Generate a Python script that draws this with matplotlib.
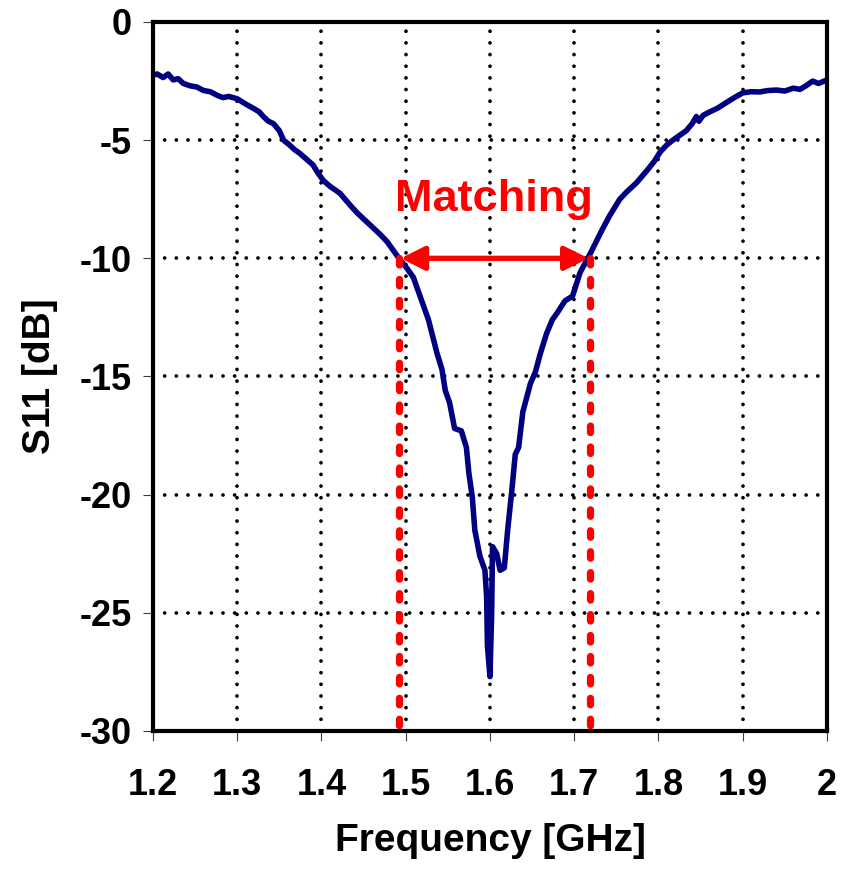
import matplotlib
matplotlib.use("Agg")
import matplotlib.pyplot as plt

matplotlib.rc("font", **{"family": "sans-serif", "sans-serif": ["Liberation Sans", "DejaVu Sans"], "weight": "bold"})
matplotlib.rcParams["axes.unicode_minus"] = False

freq = [1.200, 1.205, 1.212, 1.218, 1.224, 1.230, 1.236, 1.244, 1.252, 1.260,
        1.268, 1.276, 1.283, 1.290, 1.300, 1.309, 1.319, 1.326, 1.331, 1.337,
        1.343, 1.350, 1.355, 1.362, 1.368, 1.374, 1.382, 1.390, 1.396, 1.402,
        1.410, 1.416, 1.422, 1.434, 1.443, 1.452, 1.461, 1.470, 1.478, 1.486,
        1.493, 1.501, 1.509, 1.517, 1.522, 1.527, 1.532, 1.537, 1.543, 1.547,
        1.552, 1.558, 1.566, 1.572, 1.575, 1.579, 1.582, 1.588, 1.594, 1.596,
        1.597, 1.600, 1.602, 1.603, 1.608, 1.612, 1.617, 1.621, 1.626, 1.630,
        1.634, 1.639, 1.648, 1.654, 1.660, 1.667, 1.674, 1.680, 1.689, 1.698,
        1.707, 1.719, 1.733, 1.742, 1.754, 1.762, 1.774, 1.786, 1.795, 1.802,
        1.810, 1.817, 1.825, 1.833, 1.840, 1.845, 1.848, 1.853, 1.861, 1.870,
        1.881, 1.890, 1.900, 1.910, 1.920, 1.930, 1.940, 1.950, 1.960, 1.968,
        1.975, 1.983, 1.990, 2.000]
s11 = [-2.25, -2.2, -2.35, -2.2, -2.45, -2.4, -2.6, -2.7, -2.75, -2.9,
       -2.95, -3.1, -3.2, -3.15, -3.25, -3.45, -3.65, -3.8, -4.0, -4.2,
       -4.3, -4.6, -5.0, -5.2, -5.4, -5.55, -5.8, -6.05, -6.4, -6.7,
       -6.95, -7.1, -7.25, -7.75, -8.1, -8.4, -8.7, -9.0, -9.3, -9.7,
       -10.05, -10.4, -10.8, -11.6, -12.1, -12.6, -13.3, -14.0, -14.7, -15.6,
       -16.1, -17.2, -17.3, -18.0, -19.1, -20.1, -21.5, -22.6, -23.2, -24.3,
       -26.4, -27.7, -25.0, -22.2, -22.5, -23.2, -23.1, -21.5, -19.8, -18.3,
       -18.0, -16.5, -15.3, -14.8, -14.0, -13.2, -12.6, -12.3, -11.8, -11.6,
       -10.6, -9.8, -8.8, -8.2, -7.5, -7.2, -6.8, -6.3, -5.9, -5.5,
       -5.2, -5.0, -4.8, -4.6, -4.3, -4.0, -4.2, -3.95, -3.8, -3.65,
       -3.4, -3.2, -3.0, -2.95, -2.96, -2.9, -2.88, -2.92, -2.8, -2.85,
       -2.7, -2.5, -2.6, -2.45]

# -10 dB matching band
band_lo = 1.492
band_hi = 1.719
band_level = -10
label_text = "Matching"

xticks = [1.2, 1.3, 1.4, 1.5, 1.6, 1.7, 1.8, 1.9, 2.0]
xtick_labels = ["1.2", "1.3", "1.4", "1.5", "1.6", "1.7", "1.8", "1.9", "2"]
yticks = [0, -5, -10, -15, -20, -25, -30]

#
#   plot
#
fig = plt.figure(figsize=(8.48, 8.73), dpi=100)
ax = fig.add_axes([0.1804, 0.1627, 0.7948, 0.8121])

ax.plot(freq, s11, color="#000080", lw=4.0, zorder=3,
        solid_joinstyle="round", solid_capstyle="round")

# dashed band edges
for f in [band_lo, band_hi]:
    ax.plot([f, f], [band_level, -30], color="#ff0000", lw=5.2,
            linestyle=(0, (0.9, 2.0)), dash_capstyle="round", zorder=4, clip_on=False)

# double arrow
ax.annotate("", xy=(band_lo + 0.002, band_level), xytext=(band_hi - 0.002, band_level),
            arrowprops=dict(arrowstyle="<|-|>", color="#ff0000", lw=3.8,
                            mutation_scale=36, shrinkA=0, shrinkB=0), zorder=5)
ax.text(1.605, -7.5, label_text, color="#ff0000", fontsize=32.5, fontweight="bold",
        ha="center", va="center", zorder=5)

ax.set_xlim(1.2, 2.0)
ax.set_ylim(-30, 0)
ax.set_xticks(xticks)
ax.set_xticklabels(xtick_labels)
ax.set_yticks(yticks)
ax.tick_params(axis="both", direction="out", length=7, width=0.8, color="#404040", labelsize=26)
ax.tick_params(axis="x", pad=20)
ax.tick_params(axis="y", pad=8)

ax.grid(True, color="black", lw=2.7, linestyle=(0, (0.01, 3.1)), dash_capstyle="round", zorder=1)
for s in ax.spines.values():
    s.set_linewidth(3)
    s.set_zorder(6)

ax.set_xlabel("Frequency [GHz]", fontsize=28, fontweight="bold", labelpad=14)
ax.set_ylabel("S11 [dB]", fontsize=28, fontweight="bold", labelpad=16)

fig.savefig("out.png", dpi=100)
